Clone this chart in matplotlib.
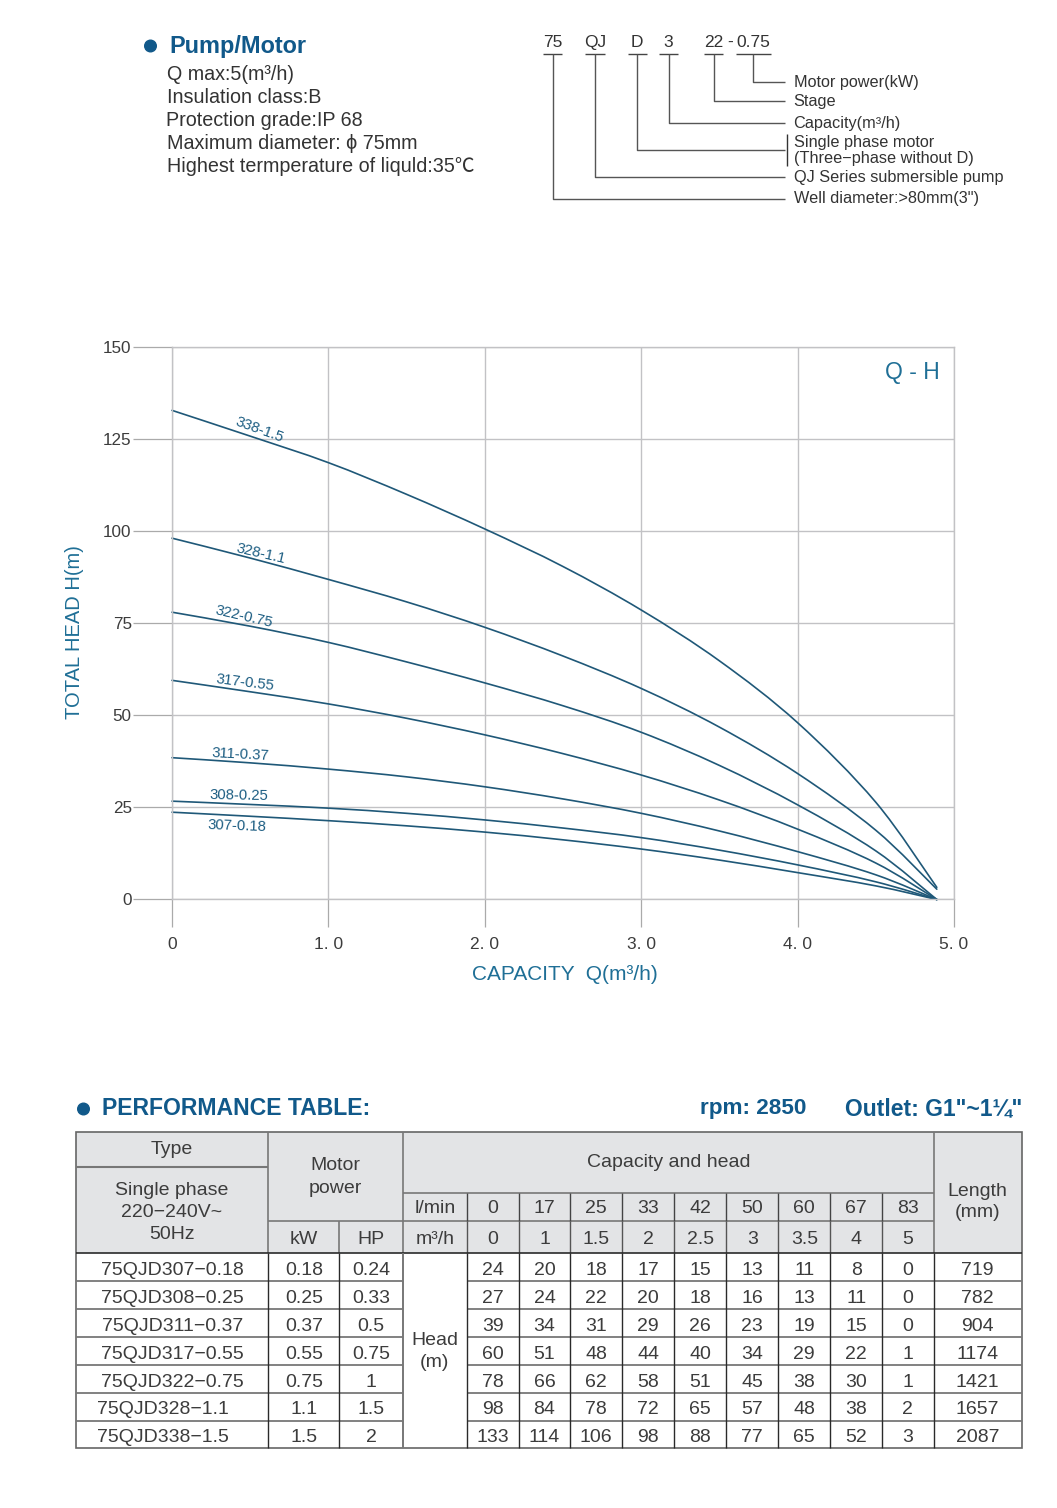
import matplotlib
matplotlib.use('Agg')
import matplotlib.pyplot as plt
import numpy as np
from matplotlib.patches import Rectangle, Circle, PathPatch
from matplotlib.path import Path

# ---------- data ----------
flow = [0, 0.5, 1, 1.5, 2, 2.5, 3, 3.5, 4, 4.5, 4.89]
h338 = [132.8, 125.8, 118.6, 110.0, 100.6, 90.4, 78.6, 64.8, 48.0, 26.4, 3.3]
h328 = [98.1, 92.7, 86.9, 80.8, 73.9, 66.1, 57.3, 46.8, 34.2, 18.8, 2.8]
h322 = [78.0, 74.2, 69.8, 64.5, 58.8, 52.6, 45.4, 36.4, 25.7, 13.2, 0]
h317 = [59.5, 56.4, 53.1, 49.2, 44.7, 39.6, 33.8, 27.0, 19.1, 9.9, 0]
h311 = [38.5, 37.1, 35.4, 33.3, 30.6, 27.3, 23.4, 18.6, 13.0, 6.7, 0]
h308 = [26.7, 25.8, 24.8, 23.4, 21.6, 19.4, 16.8, 13.4, 9.4, 4.8, 0]
h307 = [23.7, 22.6, 21.4, 20.0, 18.3, 16.2, 13.7, 10.7, 7.3, 3.7, 0]
curves = [h338, h328, h322, h317, h311, h308, h307]
curve_labels = ['338-1.5', '328-1.1', '322-0.75', '317-0.55', '311-0.37', '308-0.25', '307-0.18']
yticks = [0, 25, 50, 75, 100, 125, 150]
xticks = [0, 1, 2, 3, 4, 5]
xticklabels = ['0', '1. 0', '2. 0', '3. 0', '4. 0', '5. 0']

types = ['75QJD307−0.18', '75QJD308−0.25', '75QJD311−0.37', '75QJD317−0.55',
         '75QJD322−0.75', '75QJD328−1.1', '75QJD338−1.5']
kw = ['0.18', '0.25', '0.37', '0.55', '0.75', '1.1', '1.5']
hp = ['0.24', '0.33', '0.5', '0.75', '1', '1.5', '2']
lmin = ['0', '17', '25', '33', '42', '50', '60', '67', '83']
m3h = ['0', '1', '1.5', '2', '2.5', '3', '3.5', '4', '5']
heads = [[24, 20, 18, 17, 15, 13, 11, 8, 0],
         [27, 24, 22, 20, 18, 16, 13, 11, 0],
         [39, 34, 31, 29, 26, 23, 19, 15, 0],
         [60, 51, 48, 44, 40, 34, 29, 22, 1],
         [78, 66, 62, 58, 51, 45, 38, 30, 1],
         [98, 84, 78, 72, 65, 57, 48, 38, 2],
         [133, 114, 106, 98, 88, 77, 65, 52, 3]]
lengths = ['719', '782', '904', '1174', '1421', '1657', '2087']
specs = ['Q max:5(m³/h)', 'Insulation class:B', 'Protection grade:IP 68',
         'Maximum diameter: ϕ 75mm', 'Highest termperature of liquld:35℃']
code_parts = ['75', 'QJ', 'D', '3', '22', '0.75']
code_notes = ['Motor power(kW)', 'Stage', 'Capacity(m³/h)', 'Single phase motor',
              '(Three−phase without D)', 'QJ Series submersible pump', 'Well diameter:>80mm(3")']

# ---------- style ----------
W, H = 1057, 1508
FONT = ['Liberation Sans', 'Noto Sans CJK SC', 'DejaVu Sans']
plt.rcParams['font.family'] = FONT
BLUE = '#11598a'
TEAL = '#1f6f96'
INK = '#3c3c3c'
GRID = '#c2c2c5'
LINE = '#1f5878'
HEAD_BG = '#e3e4e6'

fig = plt.figure(figsize=(W / 100, H / 100), dpi=100, facecolor='white')

# ---------- chart ----------
L, R, T, B = 172, 954, 347, 899.5
ax = fig.add_axes([L / W, 1 - B / H, (R - L) / W, (B - T) / H])
ax.set_xlim(0, 5)
ax.set_ylim(0, 150)
ax.set_xticks(xticks)
ax.set_xticklabels(xticklabels)
ax.set_yticks(yticks)
ax.grid(True, color=GRID, lw=1.0)
ax.set_axisbelow(True)
for s in ax.spines.values():
    s.set_color(GRID)
    s.set_linewidth(1.0)
ax.tick_params(axis='x', length=20.5, width=0.9, color='#aaaaaa', labelsize=12.5, labelcolor=INK, pad=6.5)
ax.tick_params(axis='y', length=28, width=0.9, color='#aaaaaa', labelsize=12.3, labelcolor=INK, pad=1)


def smooth_path(xs, ys):
    """Catmull-Rom through the read points, as Bezier segments."""
    p = np.column_stack([xs, ys]).astype(float)
    verts = [p[0]]
    codes = [Path.MOVETO]
    for i in range(len(p) - 1):
        a = p[max(i - 1, 0)]
        b, c = p[i], p[i + 1]
        d = p[min(i + 2, len(p) - 1)]
        verts += [b + (c - a) / 6, c - (d - b) / 6, c]
        codes += [Path.CURVE4] * 3
    return Path(verts, codes)


for hs in curves:
    ax.add_patch(PathPatch(smooth_path(flow, hs), fc='none', ec=LINE, lw=1.2,
                           capstyle='round', clip_on=False))

# ---------- overlay in pixel units ----------
ov = fig.add_axes([0, 0, 1, 1], facecolor='none')
ov.set_xlim(0, W)
ov.set_ylim(H, 0)
ov.axis('off')


def txt(x, y, s, size=14, color=INK, ha='center', weight='normal', rot=0):
    ov.text(x, y + 1.8, s, fontsize=size, color=color, ha=ha, va='center', fontweight=weight,
            rotation=rot, rotation_mode='anchor', family=FONT)


def seg(xs, ys, color='#555555', lw=1.0):
    ov.plot(xs, ys, color=color, lw=lw, solid_capstyle='butt')


txt(74.5, 630, 'TOTAL HEAD H(m)', 14.5, TEAL, rot=90)
txt(565, 973, 'CAPACITY  Q(m³/h)', 15, TEAL)
txt(912, 370.5, 'Q - H', 16.5, TEAL)

label_pos = [(259.5, 428, -20), (260.5, 552, -13), (243.5, 615, -13), (245.5, 680.5, -7),
             (240, 752.5, -3), (239, 794, -1), (237, 824, -2)]
for s, (x, y, r) in zip(curve_labels, label_pos):
    txt(x, y, s, 10.7, '#1c5d82', rot=r)

# ---------- top left block ----------
ov.add_patch(Circle((150.5, 46), 5.8, color=BLUE))
txt(169, 44.5, 'Pump/Motor', 16.9, BLUE, ha='left', weight='bold')
for s, y, x in zip(specs, [72.5, 95.5, 118.5, 141.5, 164.5], [167, 167, 166, 167, 167]):
    txt(x, y, s, 14.2, '#333333', ha='left')

# ---------- type code diagram ----------
part_x = [552.5, 595, 637, 668.5, 713.5, 753]
part_ul = [(543, 562), (585, 605), (628, 647), (659, 678), (704, 723), (736, 771)]
end_y = [198.5, 176.5, 149.5, 123, 100.5, 81.5]
for s, x, (a, b), y in zip(code_parts, part_x, part_ul, end_y):
    txt(x, 41, s, 12.5, '#333333')
    seg([a, b], [54, 54], '#444444', 1.0)
    seg([x, x, 785], [54, y, y])
txt(730, 41, '-', 12.5, '#333333')
seg([786.5, 786.5], [134, 166], '#333333', 1.0)
for s, y in zip(code_notes, [81, 100, 122, 140.5, 157, 176, 197]):
    txt(793.5, y, s, 11.7, '#333333', ha='left')

# ---------- performance table ----------
ov.add_patch(Circle((83.5, 1109), 5.8, color=BLUE))
txt(102, 1106.5, 'PERFORMANCE TABLE:', 16.6, BLUE, ha='left', weight='bold')
txt(700, 1107, 'rpm: 2850', 16.2, BLUE, ha='left', weight='bold')
txt(845, 1107, 'Outlet: G1"~1¼"', 16.5, BLUE, ha='left', weight='bold')

xe = [76, 268, 339, 403, 466.7, 518.7, 570.3, 622.3, 674.3, 726.3, 778.3, 830.3, 882, 933.7, 1021.7]
ye = [1253.3, 1281, 1309, 1337, 1365, 1392.7, 1420.7, 1448.3]
top, r1, r2, r3 = 1132.3, 1167.3, 1192.7, 1221
ov.add_patch(Rectangle((xe[0], top), xe[-1] - xe[0], ye[0] - top, fc=HEAD_BG, ec='none'))

GL = '#777777'
DL = '#2a2a2a'
# header rules
seg([xe[0], xe[1]], [r1, r1], GL, 1.5)
seg([xe[3], xe[-2]], [r2, r2], GL, 1.2)
seg([xe[1], xe[-2]], [r3, r3], GL, 1.2)
seg([xe[1], xe[1]], [top, ye[0]], GL, 1.2)
seg([xe[2], xe[2]], [r3, ye[0]], GL, 1.2)
seg([xe[3], xe[3]], [top, ye[0]], GL, 1.2)
for x in xe[4:13]:
    seg([x, x], [r2, r3], '#444444', 1.0)
    seg([x, x], [r3, ye[0]], '#555555', 1.0)
seg([xe[-2], xe[-2]], [top, ye[0]], GL, 1.2)
# body rules
for y in ye[1:-1]:
    seg([xe[0], xe[3]], [y, y], GL, 1.3)
    seg([xe[4], xe[-1]], [y, y], GL, 1.3)
seg([xe[0], xe[-1]], [ye[0], ye[0]], DL, 1.2)
for i in [1, 2, 4, 5, 6, 7, 8, 9, 10, 11, 12, 13]:
    seg([xe[i], xe[i]], [ye[0], ye[-1]], DL, 1.0)
seg([xe[3], xe[3]], [ye[0], ye[-1]], GL, 1.4)
# outer frame
ov.add_patch(Rectangle((xe[0], top), xe[-1] - xe[0], ye[-1] - top, fc='none', ec='#666666', lw=1.2))

# header text
txt((xe[0] + xe[1]) / 2, 1148, 'Type')
for s, y in zip(['Single phase', '220−240V~', '50Hz'], [1189, 1210.5, 1232.5]):
    txt((xe[0] + xe[1]) / 2, y, s)
txt((xe[1] + xe[3]) / 2, 1164, 'Motor')
txt((xe[1] + xe[3]) / 2, 1186.5, 'power')
txt(669, 1160.5, 'Capacity and head')
txt(977.5, 1189.5, 'Length')
txt(977.5, 1210.5, '(mm)')
txt(304, 1237.5, 'kW')
txt(371, 1237.5, 'HP')
txt(435, 1207, 'l/min')
txt(435, 1237.5, 'm³/h')
for i, (a, b) in enumerate(zip(lmin, m3h)):
    cx = (xe[4 + i] + xe[5 + i]) / 2
    txt(cx, 1207, a)
    txt(cx, 1237.5, b)
txt(434.5, 1339, 'Head')
txt(434.5, 1360.5, '(m)')

# body text
for r, (t, k, p, row, ln) in enumerate(zip(types, kw, hp, heads, lengths)):
    cy = (ye[r] + ye[r + 1]) / 2 + 1.5
    if r >= 5:
        txt(97, cy, t, ha='left')
    else:
        txt(172.5, cy, t)
    txt(304, cy, k)
    txt(371, cy, p)
    for i, v in enumerate(row):
        txt((xe[4 + i] + xe[5 + i]) / 2, cy, str(v))
    txt(977.5, cy, ln)

fig.savefig('out.png', dpi=100, facecolor='white')
